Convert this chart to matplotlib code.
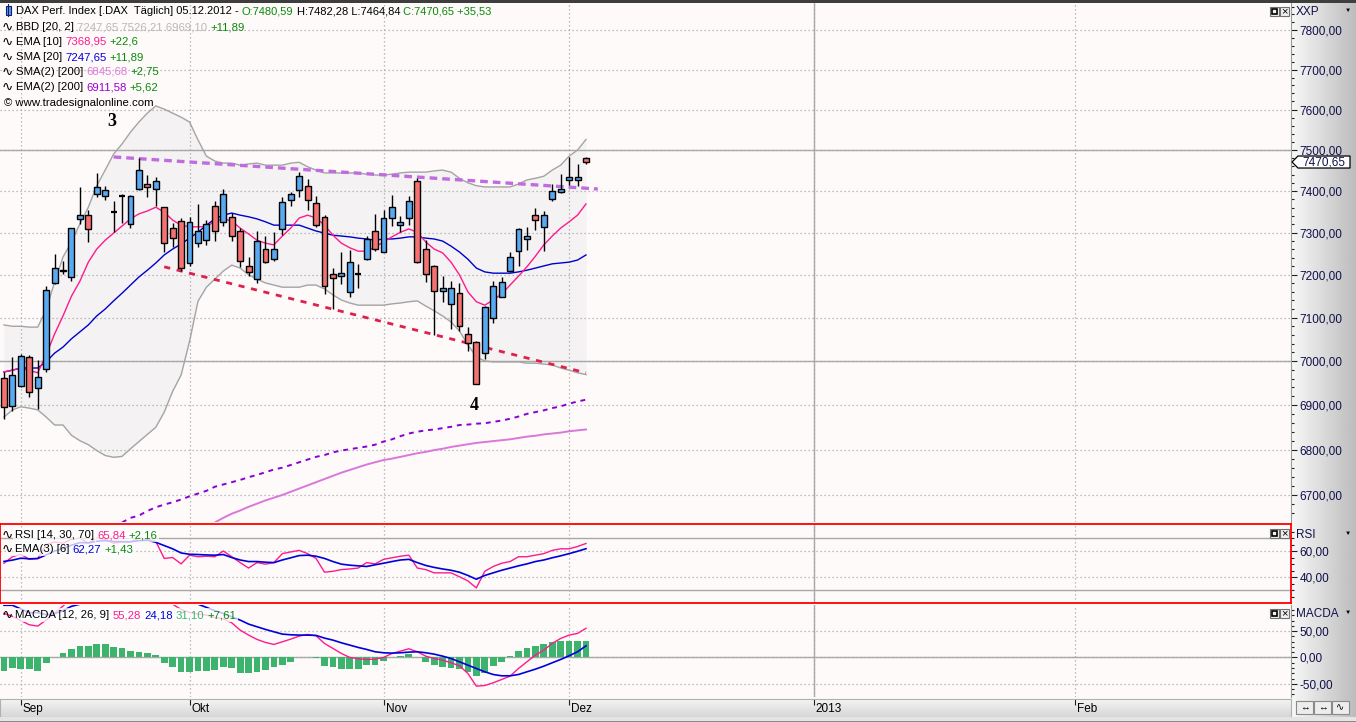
import matplotlib
matplotlib.use("Agg")
import matplotlib.pyplot as plt
import numpy as np
from matplotlib.patches import Rectangle, Polygon
from matplotlib.transforms import IdentityTransform
from matplotlib.ticker import FixedLocator, NullFormatter, FuncFormatter

opens = [6961, 6897, 6944, 7010, 6939, 6981, 7182, 7208, 7196, 7332,
         7342, 7394, 7388, 7349, 7387, 7320, 7406, 7417, 7404, 7361,
         7312, 7329, 7228, 7276, 7283, 7365, 7325, 7338, 7304, 7220,
         7190, 7261, 7237, 7308, 7379, 7402, 7412, 7371, 7338, 7201,
         7198, 7160, 7203, 7238, 7305, 7254, 7336, 7319, 7336, 7424,
         7260, 7220, 7162, 7131, 7157, 7063, 7043, 7018, 7100, 7149,
         7208, 7257, 7286, 7342, 7313, 7380, 7397, 7426, 7426, 7480.59]
highs = [6976, 7009, 7015, 7014, 7002, 7174, 7249, 7233, 7312, 7409,
         7355, 7445, 7412, 7375, 7394, 7390, 7480, 7439, 7435, 7361,
         7324, 7335, 7338, 7370, 7331, 7375, 7406, 7346, 7312, 7243,
         7304, 7292, 7302, 7385, 7398, 7447, 7429, 7388, 7343, 7215,
         7254, 7258, 7225, 7292, 7344, 7355, 7391, 7339, 7388, 7431,
         7283, 7223, 7198, 7186, 7182, 7079, 7046, 7128, 7186, 7194,
         7254, 7310, 7314, 7360, 7351, 7416, 7441, 7484, 7466, 7482.28]
lows = [6869, 6887, 6940, 6918, 6891, 6974, 7178, 7201, 7186, 7320,
        7278, 7385, 7378, 7302, 7324, 7312, 7402, 7385, 7365, 7254,
        7265, 7209, 7221, 7265, 7270, 7281, 7315, 7281, 7219, 7198,
        7182, 7229, 7233, 7294, 7365, 7385, 7355, 7314, 7155, 7120,
        7178, 7147, 7169, 7236, 7257, 7254, 7316, 7302, 7318, 7227,
        7183, 7060, 7137, 7073, 7069, 7023, 6948, 7004, 7088, 7147,
        7206, 7220, 7259, 7306, 7256, 7375, 7396, 7415, 7413, 7464.84]
closes = [6895, 6967, 7012, 6930, 6964, 7165, 7215, 7212, 7310, 7343,
          7309, 7409, 7402, 7349, 7387, 7388, 7451, 7411, 7424, 7276,
          7288, 7215, 7325, 7305, 7321, 7304, 7394, 7291, 7233, 7206,
          7280, 7231, 7261, 7373, 7393, 7437, 7379, 7318, 7173, 7192,
          7204, 7231, 7203, 7284, 7261, 7336, 7362, 7326, 7377, 7230,
          7203, 7162, 7168, 7168, 7080, 7042, 6948, 7124, 7173, 7184,
          7243, 7308, 7292, 7330, 7342, 7400, 7405, 7434, 7434, 7470.65]

bb_upper = [7083, 7080, 7080, 7078, 7078, 7118, 7183, 7242, 7278, 7321,
            7361, 7413, 7451, 7490, 7515, 7544, 7569, 7591, 7609, 7601,
            7591, 7581, 7569, 7525, 7485, 7473, 7468, 7468, 7463, 7466,
            7468, 7463, 7463, 7463, 7468, 7470, 7459, 7451, 7444, 7444,
            7444, 7444, 7444, 7441, 7439, 7439, 7441, 7444, 7446, 7446,
            7446, 7449, 7451, 7446, 7431, 7420, 7413, 7410, 7410, 7410,
            7410, 7417, 7427, 7431, 7436, 7451, 7463, 7485, 7500, 7526]
bb_lower = [6873, 6889, 6896, 6893, 6889, 6873, 6855, 6855, 6832, 6820,
            6811, 6798, 6787, 6783, 6785, 6802, 6818, 6834, 6850, 6884,
            6931, 6968, 7045, 7138, 7171, 7190, 7209, 7223, 7216, 7200,
            7190, 7181, 7176, 7171, 7171, 7171, 7176, 7176, 7167, 7153,
            7141, 7134, 7129, 7129, 7129, 7129, 7132, 7134, 7137, 7139,
            7127, 7116, 7104, 7090, 7069, 7037, 7009, 7000, 6998, 6998,
            6998, 6998, 6995, 6995, 6993, 6991, 6984, 6979, 6973, 6969]
sma20 = [6975, 6979, 6984, 6984, 6984, 6998, 7018, 7032, 7051, 7067,
         7083, 7104, 7120, 7139, 7157, 7176, 7195, 7211, 7228, 7247,
         7261, 7273, 7287, 7301, 7318, 7333, 7342, 7347, 7342, 7338,
         7333, 7326, 7318, 7318, 7318, 7318, 7311, 7304, 7299, 7294,
         7292, 7290, 7287, 7285, 7282, 7285, 7285, 7287, 7290, 7290,
         7287, 7285, 7280, 7268, 7254, 7237, 7216, 7207, 7204, 7204,
         7204, 7207, 7211, 7216, 7221, 7226, 7228, 7230, 7235, 7247]
ema10 = [6975, 6979, 6984, 6979, 6973, 7014, 7062, 7104, 7150, 7185,
         7230, 7261, 7282, 7299, 7316, 7333, 7345, 7352, 7361, 7349,
         7330, 7318, 7314, 7314, 7314, 7328, 7333, 7328, 7311, 7297,
         7282, 7275, 7271, 7292, 7311, 7335, 7342, 7335, 7318, 7294,
         7275, 7264, 7256, 7256, 7266, 7278, 7290, 7301, 7309, 7301,
         7278, 7261, 7252, 7230, 7200, 7160, 7137, 7129, 7141, 7155,
         7176, 7197, 7219, 7244, 7271, 7292, 7311, 7326, 7342, 7369]
ema200_start = 14
ema200 = [6640, 6650, 6655, 6665, 6673, 6679, 6684, 6690, 6697, 6703,
          6709, 6718, 6723, 6728, 6733, 6739, 6744, 6750, 6756, 6760,
          6766, 6772, 6778, 6784, 6788, 6794, 6798, 6801, 6804, 6807,
          6811, 6818, 6823, 6830, 6836, 6840, 6843, 6845, 6848, 6851,
          6855, 6856, 6858, 6859, 6862, 6865, 6869, 6874, 6880, 6884,
          6888, 6893, 6897, 6903, 6908, 6912]
sma200_start = 25
sma200 = [6640, 6650, 6659, 6666, 6674, 6681, 6688, 6694, 6700, 6707,
          6714, 6721, 6728, 6735, 6742, 6749, 6755, 6761, 6767, 6772,
          6777, 6780, 6784, 6788, 6792, 6795, 6799, 6802, 6806, 6809,
          6812, 6815, 6817, 6819, 6821, 6823, 6826, 6829, 6831, 6834,
          6836, 6838, 6841, 6843, 6845]

rsi = [50.6, 55.6, 57.5, 53.6, 54.3, 65, 67, 66, 69, 70,
       66, 70, 69, 66, 67, 67, 70, 69, 67.4, 54.3,
       55, 50.1, 56.8, 55.6, 56, 55.6, 60, 55.6, 51.1, 46.9,
       51.1, 49.9, 51.1, 58, 59.3, 60.5, 58, 54.3, 43.7, 44.4,
       45.7, 46.2, 46.9, 51.1, 50.1, 53.6, 54.8, 56, 56.8, 46.9,
       45.7, 43.2, 43.2, 43.2, 40.2, 37, 31.6, 44.4, 48.1, 50.6,
       51.9, 55.6, 55.6, 56.8, 58, 60.5, 61.7, 61.7, 63.5, 65.8]
rsi_ema = [52, 53, 54.5, 54, 54.2, 57, 60, 62, 64.5, 66.5,
           66.3, 67.5, 68, 67.3, 67.2, 67.1, 68, 68.3, 66.7, 64.2,
           61.7, 58.5, 57.5, 57.3, 57, 56.8, 57.3, 55, 53.1, 51.9,
           51.9, 51.4, 51.1, 53.1, 54.8, 56.5, 56.8, 56, 54.3, 51.9,
           49.9, 49.1, 48.6, 48.1, 49.4, 50.6, 51.9, 53.1, 53.6, 51.1,
           48.9, 47.4, 46.2, 45.2, 43.7, 41.2, 38.3, 41.2, 43.2, 45.2,
           46.9, 48.6, 50.1, 51.9, 53.1, 54.8, 56.3, 58, 59.8, 61.8]

macd = [83.5, 78, 70, 62, 59.5, 71, 84, 97.5, 112, 125,
        130, 140, 145, 142, 142, 137, 138, 135, 132, 108,
        101, 91, 85.4, 82.3, 80.4, 75.9, 73.4, 65.8, 51.9, 42.4,
        34.2, 28.5, 24.7, 29.7, 34.8, 40.5, 43.7, 41.1, 26.6, 17.1,
        7.6, 0, -2.5, -3.8, -3.2, 0, 7.6, 12, 16.5, 10.8,
        2.5, -1.9, -5.1, -10.1, -15.8, -30.4, -54.4, -53.2, -48.1, -41.8,
        -35.4, -20.9, -8.2, 4.4, 13.9, 26.6, 36.1, 42.4, 45.6, 55.3]
macd_signal = [99, 99, 92, 85, 85, 81, 83, 89, 97, 101,
               104, 115, 120, 123, 125, 125, 126, 127, 127, 120,
               116, 111, 106, 101, 95, 88.6, 83.5, 77.2, 70.9, 63.3,
               58.2, 53.2, 48.7, 44.3, 43, 42.4, 42.4, 41.8, 36.7, 32.9,
               27.8, 23.4, 19, 15.2, 10.8, 8.9, 8.2, 8.9, 10.1, 10.8,
               8.9, 6.3, 2.5, -1.9, -8.2, -14.6, -20.9, -27.2, -32.3, -34.8,
               -34.8, -32.3, -27.2, -22.2, -16.5, -10.1, -3.8, 3.2, 10.8, 22]
macd_hist = [-25.3, -20.9, -22, -22.8, -25.3, -10, 1, 8.9, 15.2, 21.5,
             21.5, 25.3, 24.7, 19, 17, 12, 10.8, 7.6, 4.4, -10,
             -17.7, -27.2, -27.2, -26, -25.3, -24, -17.7, -20.9, -30.4, -29.1,
             -27.2, -24, -17.7, -14.6, -8.2, 0.6, 0.6, -1.9, -15.8, -17.7,
             -22.2, -22.8, -22.8, -15.2, -14.6, -6.3, 0.5, 3.2, 6.3, 0.4,
             -8.2, -14.6, -17.7, -19.6, -22.2, -27.2, -35.4, -29.1, -16.5, -8.2,
             2.5, 12, 17, 22.2, 25.3, 28.5, 31.6, 31.6, 31.6, 31.1]

# Trendlinien (Bar-Index, Kurs)
res_x, res_y = [13, 70.4], [7483, 7405]
sup_x, sup_y = [19, 69], [7219, 6973]
wave_labels = ['3', '4']
wave_x = [12.8, 55.7]
wave_y = [7571, 6898]

month_pos = [2, 22, 45, 67, 96, 127]
month_labels = ['Sep', 'Okt', 'Nov', 'Dez', '2013', 'Feb']
year_pos = 96
price_ticks = list(range(6700, 7801, 100))
solid_levels = [7000, 7500]

W, H = 1356, 722
FONT = ['Liberation Sans', 'DejaVu Sans']
BG = '#FDFAF9'
GRID = '#A8A8A8'
DOTS = (0, (1, 2.2))

fig = plt.figure(figsize=(W / 100, H / 100), dpi=100)
fig.patch.set_facecolor(BG)


def box(x0, y0, x1, y1):
    return [x0 / W, 1 - y1 / H, (x1 - x0) / W, (y1 - y0) / H]


def prc(v, p=None):
    return f'{v:.2f}'.replace('.', ',')


idx = np.arange(len(closes))
o = np.array(opens)
c = np.array(closes)
up = c > o
dn = c < o
dj = c == o

ax = fig.add_axes(box(0, 2, 1291, 522), zorder=2)
ax_rsi = fig.add_axes(box(0, 524, 1291, 603), sharex=ax, zorder=2)
ax_macd = fig.add_axes(box(0, 605, 1291, 697), sharex=ax, zorder=2)
ax_date = fig.add_axes(box(0, 699, 1291, 717), sharex=ax, zorder=2)

# Hauptchart
ax.set_facecolor(BG)
ax.set_yscale('log')
ax.set_xlim(-0.47, 152.58)
ax.set_ylim(6641, 7872)
ax.fill_between(idx, bb_lower, bb_upper, color='#F4F2F2', lw=0, zorder=1)
ax.plot(idx, bb_upper, color='#A4A4A4', lw=1, zorder=2)
ax.plot(idx, bb_lower, color='#A4A4A4', lw=1, zorder=2)
ax.plot(idx, sma20, color='#0000CC', lw=1, zorder=2)
ax.plot(idx, ema10, color='#FF1A8C', lw=1, zorder=2)
ax.plot(np.arange(ema200_start, ema200_start + len(ema200)), ema200,
        color='#8A00D4', lw=1.4, ls=(0, (2.5, 2.5)), zorder=2)
ax.plot(np.arange(sma200_start, sma200_start + len(sma200)), sma200,
        color='#D878D8', lw=1.4, zorder=2)
ax.plot(res_x, res_y, color='#C06CE0', lw=2.4, ls=(0, (2.3, 1.5)), zorder=2.5)
ax.plot(sup_x, sup_y, color='#E0204C', lw=2, ls=(0, (2.2, 2.4)), zorder=2.5)

ax.vlines(idx, lows, highs, color='black', lw=1, zorder=3)
ax.bar(idx[up], (c - o)[up], bottom=o[up], width=0.7, color='#5AAAF2',
       edgecolor='black', lw=1, zorder=4)
ax.bar(idx[dn], (o - c)[dn], bottom=c[dn], width=0.7, color='#F47272',
       edgecolor='black', lw=1, zorder=4)
ax.hlines(o[dj], idx[dj] - 0.35, idx[dj] + 0.35, color='black', lw=1.6, zorder=4)

for lab, xx, yy in zip(wave_labels, wave_x, wave_y):
    ax.text(xx, yy, lab, fontsize=13, fontweight='bold', family='Liberation Serif',
            ha='center', va='center', color='black', zorder=6)

ax.yaxis.tick_right()
ax.yaxis.set_major_locator(FixedLocator(price_ticks))
ax.yaxis.set_minor_locator(FixedLocator([v for v in range(6660, 7861, 20) if v % 100]))
ax.yaxis.set_major_formatter(FuncFormatter(prc))
ax.yaxis.set_minor_formatter(NullFormatter())
ax.grid(axis='y', which='major', color=GRID, lw=0.9, ls=DOTS)
for v in solid_levels:
    ax.axhline(v, color=GRID, lw=1, zorder=1.5)

# RSI
ax_rsi.set_facecolor(BG)
ax_rsi.set_ylim(20, 80.8)
ax_rsi.plot(idx, rsi, color='#FF1A8C', lw=1)
ax_rsi.plot(idx, rsi_ema, color='#0000DD', lw=1.2)
ax_rsi.yaxis.tick_right()
ax_rsi.set_yticks([40, 60])
ax_rsi.yaxis.set_minor_locator(FixedLocator([25, 30, 35, 45, 50, 55, 65, 70, 75]))
ax_rsi.yaxis.set_major_formatter(FuncFormatter(prc))
ax_rsi.grid(axis='y', which='major', color=GRID, lw=0.9, ls=DOTS)
for v in [30, 70]:
    ax_rsi.axhline(v, color=GRID, lw=1)
for s in ax_rsi.spines.values():
    s.set_color('#FF0000')
    s.set_linewidth(1.3)

# MACD
ax_macd.set_facecolor(BG)
ax_macd.set_ylim(-75, 99.5)
ax_macd.bar(idx, macd_hist, width=0.8, color='#3DB46E', zorder=2)
ax_macd.plot(idx, macd, color='#FF1A8C', lw=1, zorder=3)
ax_macd.plot(idx, macd_signal, color='#0000DD', lw=1.2, zorder=3)
ax_macd.yaxis.tick_right()
ax_macd.set_yticks([-50, 0, 50])
ax_macd.yaxis.set_minor_locator(FixedLocator([-70, -60, -40, -30, -20, -10, 10, 20, 30, 40, 60, 70, 80, 90]))
ax_macd.yaxis.set_major_formatter(FuncFormatter(prc))
ax_macd.grid(axis='y', which='major', color=GRID, lw=0.9, ls=DOTS)
ax_macd.axhline(0, color=GRID, lw=1, zorder=1.5)

for a in (ax, ax_rsi, ax_macd):
    a.set_xticks(month_pos)
    a.tick_params(axis='x', length=0, labelbottom=False)
    a.grid(axis='x', color=GRID, lw=0.9, ls=DOTS)
    a.axvline(year_pos, color=GRID, lw=1, zorder=1.5)
    a.tick_params(axis='y', which='major', direction='out', length=4, pad=2,
                  labelsize=8.5, labelcolor='#10104A', color='#202020', width=0.8)
    a.tick_params(axis='y', which='minor', direction='out', length=2.5, color='#202020', width=0.8)
    for lbl in a.get_yticklabels():
        lbl.set_family(FONT)
for a in (ax, ax_macd):
    for k, s in a.spines.items():
        s.set_visible(k == 'right')
        s.set_color('#9A9A9A')

# Datumsleiste
grad_v = np.linspace(0.96, 0.84, 32).reshape(-1, 1)
ax_date.imshow(grad_v, cmap='gray', vmin=0, vmax=1, aspect='auto',
               extent=(-0.47, 152.58, 0, 1), transform=ax_date.get_xaxis_transform())
ax_date.set_ylim(0, 1)
ax_date.set_yticks([])
ax_date.set_xticks(month_pos)
ax_date.tick_params(axis='x', direction='in', top=True, bottom=False, length=4,
                    labelbottom=False, color='#202020')
for s in ax_date.spines.values():
    s.set_color('#B0B0B0')
for p, lab in zip(month_pos, month_labels):
    ax_date.text(p + 0.25, 0.42, lab, transform=ax_date.get_xaxis_transform(),
                 fontsize=8.5, family=FONT, ha='left', va='center', color='black')

# rechte Skalenleiste
ax_side = fig.add_axes(box(1291, 2, 1356, 717), zorder=0)
grad_h = np.linspace(0.97, 0.74, 64).reshape(1, -1)
ax_side.imshow(grad_h, cmap='gray', vmin=0, vmax=1, aspect='auto')
ax_side.set_axis_off()

fig.add_artist(Rectangle((0, H - 2.5), W, 2.5, transform=IdentityTransform(),
                         color='#3E3E3E', lw=0, zorder=8))
fig.add_artist(Rectangle((0, 0), W, 5, transform=IdentityTransform(),
                         color='#E4E4E4', lw=0, zorder=8))
fig.add_artist(Rectangle((0, 0), W, 1.2, transform=IdentityTransform(),
                         color='#8A8A8A', lw=0, zorder=8))

for name, yy in [('XXP', 12), ('RSI', 535), ('MACDA', 614)]:
    fig.text(1296 / W, 1 - yy / H, name, fontsize=8.5, family=FONT, va='center', color='#10104A')
    fig.text(1348 / W, 1 - (yy - 2) / H, '▼', fontsize=4.5, family=FONT, va='center', ha='center')

# Fenster-Symbole rechts oben in jedem Panel
for yy in (11, 533, 613):
    for k, x0 in enumerate((1270, 1280)):
        fig.add_artist(Rectangle((x0, H - yy - 5), 9, 9, transform=IdentityTransform(),
                                 facecolor='#F0F0F0', edgecolor='#707070', lw=0.8, zorder=8))
        if k == 0:
            fig.add_artist(Rectangle((x0 + 2, H - yy - 3), 5, 5, transform=IdentityTransform(),
                                     facecolor='none', edgecolor='black', lw=1.2, zorder=9))
        else:
            fig.text(x0 + 4.5, H - yy - 0.5, '×', transform=IdentityTransform(), fontsize=8,
                     family=FONT, ha='center', va='center', color='black', zorder=9)

for k, g in enumerate(['↔', '↔', '∿']):
    x0 = 1296 + k * 18
    fig.add_artist(Rectangle((x0, H - 714), 17, 13, transform=IdentityTransform(),
                             facecolor='#EDEDED', edgecolor='#8A8A8A', lw=0.8, zorder=8))
    fig.text(x0 + 8.5, H - 707.5, g, transform=IdentityTransform(), fontsize=7,
             family=FONT, ha='center', va='center', color='black', zorder=9)

# Kurs-Marke an der Skala
yc = ax.transData.transform((0, closes[-1]))[1]
fig.add_artist(Polygon([(1292, yc), (1298, yc + 6), (1350, yc + 6), (1350, yc - 6), (1298, yc - 6)],
                       closed=True, transform=IdentityTransform(), facecolor='white',
                       edgecolor='black', lw=0.9, zorder=8))
fig.text(1324, yc, prc(closes[-1]), transform=IdentityTransform(), fontsize=8.5, family=FONT,
         ha='center', va='center', color='#10104A', zorder=9)

# Legenden
renderer = fig.canvas.get_renderer()
GREEN = '#0A8A0A'


def row(x, y, parts, size=8.2, wave=True, bg=0.0):
    if wave:
        fig.text(2 / W, 1 - y / H, '∿', fontsize=size + 1.5, family=['DejaVu Sans'],
                 va='center', ha='left', color='black')
    for s, col in parts:
        if s == ' ':
            x += 3.2
            continue
        kw = {}
        if bg:
            kw['bbox'] = dict(facecolor='white', alpha=bg, edgecolor='none', pad=1.2)
        t = fig.text(x / W, 1 - y / H, s, fontsize=size, family=FONT, va='center',
                     ha='left', color=col, **kw)
        x += t.get_window_extent(renderer).width


# Kopfzeile mit Kerzen-Symbol
fig.add_artist(Rectangle((6, H - 15), 5, 9, transform=IdentityTransform(),
                         facecolor='#4A9AF0', edgecolor='#1A1A6A', lw=0.8, zorder=8))
fig.add_artist(Rectangle((8.2, H - 17), 0.8, 13, transform=IdentityTransform(),
                         color='#1A1A6A', lw=0, zorder=8))
row(16, 11, [('DAX Perf. Index [.DAX  Täglich] 05.12.2012 -', 'black'), (' ', None),
             ('O:7480,59', GREEN), (' ', None), ('H:7482,28 L:7464,84', 'black'), (' ', None),
             ('C:7470,65 +35,53', GREEN)], size=8.0, wave=False)
row(16, 27, [('BBD [20, 2]', 'black'), (' ', None), ('7247,65 7526,21 6969,10', '#B8B8B8'),
             (' ', None), ('+11,89', GREEN)])
row(16, 42, [('EMA [10]', 'black'), (' ', None), ('7368,95', '#FF1A8C'), (' ', None), ('+22,6', GREEN)])
row(16, 57, [('SMA [20]', 'black'), (' ', None), ('7247,65', '#0000DD'), (' ', None), ('+11,89', GREEN)])
row(16, 72, [('SMA(2) [200]', 'black'), (' ', None), ('6845,68', '#E07AE0'), (' ', None), ('+2,75', GREEN)])
row(16, 87, [('EMA(2) [200]', 'black'), (' ', None), ('6911,58', '#9A00D0'), (' ', None), ('+5,62', GREEN)])
row(4, 102.5, [('© www.tradesignalonline.com', 'black')], wave=False)

row(15, 535, [('RSI [14, 30, 70]', 'black'), (' ', None), ('65,84', '#FF1A8C'), (' ', None),
              ('+2,16', GREEN)], bg=0.75)
row(15, 549, [('EMA(3) [6]', 'black'), (' ', None), ('62,27', '#0000DD'), (' ', None),
              ('+1,43', GREEN)], bg=0.75)
row(15, 615, [('MACDA [12, 26, 9]', 'black'), (' ', None), ('55,28', '#FF1A8C'), (' ', None),
              ('24,18', '#0000DD'), (' ', None), ('31,10', '#3DB46E'), (' ', None),
              ('+7,61', GREEN)], bg=0.75)

fig.savefig('out.png', dpi=100, facecolor=fig.get_facecolor())
